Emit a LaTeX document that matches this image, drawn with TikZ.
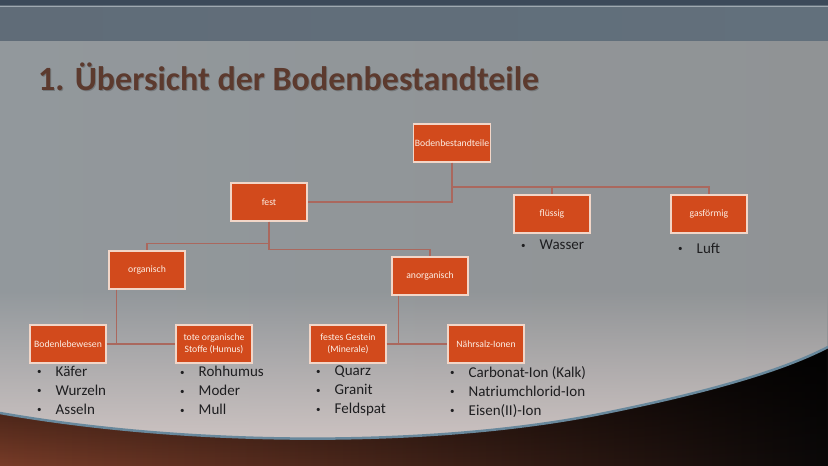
\documentclass[tikz,border=0pt]{standalone}
\usepackage{fontspec}
\setmainfont{Carlito}
\usetikzlibrary{fadings}

\definecolor{boxfill}{RGB}{210,74,28}
\definecolor{boxline}{RGB}{242,214,200}
\definecolor{boxtext}{RGB}{252,238,228}
\definecolor{linecol}{RGB}{170,104,94}
\definecolor{listtext}{RGB}{30,30,32}
\definecolor{titlecol}{RGB}{92,58,46}
\definecolor{topdark}{RGB}{60,74,90}
\definecolor{bandleft}{RGB}{96,108,120}
\definecolor{bandmid}{RGB}{118,132,144}
\definecolor{bandright}{RGB}{98,112,124}
\definecolor{bodyleft}{RGB}{146,152,156}
\definecolor{bodymid}{RGB}{172,196,208}
\definecolor{bodyright}{RGB}{144,147,149}
\definecolor{glow}{RGB}{214,202,200}
\definecolor{soilleft}{RGB}{120,60,40}
\definecolor{soilright}{RGB}{10,8,8}
\definecolor{rim}{RGB}{104,136,156}

\newcommand{\bul}[1]{\makebox[18.5pt][l]{\raisebox{1.5pt}{\fontsize{9}{9}\selectfont\textbullet}}#1}

\begin{document}
\begin{tikzpicture}[x=1pt,y=-1pt,
	box/.style={draw=boxline,fill=boxfill,text=boxtext,line width=1.2pt,minimum width=76pt,minimum height=38pt,inner sep=1pt,align=center,font=\fontsize{9.7}{11.5}\selectfont},
	liste/.style={anchor=north west,inner sep=0pt,align=left,text=listtext,font=\fontsize{15}{19}\selectfont},
	titel/.style={anchor=base west,inner sep=0pt,font=\fontsize{34}{40}\selectfont\bfseries},
	conn/.style={draw=linecol,line width=1.3pt}]
	\useasboundingbox (0,0) rectangle (828,466);

	% Hintergrund
	\shade[left color=bodyleft,middle color=bodymid,right color=bodyright] (0,40) rectangle (828,466);
	\fill[glow,path fading=north] (0,290) rectangle (828,466);
	\fill[topdark] (0,0) rectangle (828,5);
	\shade[left color=bandleft,middle color=bandmid,right color=bandright] (0,5) rectangle (828,40);
	\draw[bandmid!70!white,line width=.8pt] (0,6) -- (828,6);
	\shade[left color=soilleft,right color=soilright] (0,413) .. controls (200,448) and (440,446) .. (600,414) .. controls (700,394) and (780,372) .. (828,347) -- (828,466) -- (0,466) -- cycle;
	\fill[black,path fading=south,opacity=.8] (0,413) .. controls (200,448) and (440,446) .. (600,414) .. controls (700,394) and (780,372) .. (828,347) -- (828,466) -- (0,466) -- cycle;
	\draw[rim,line width=2.5pt] (0,413) .. controls (200,448) and (440,446) .. (600,414) .. controls (700,394) and (780,372) .. (828,347);

	\node[titel,text=black,opacity=.2] at (39,91) {1. Übersicht der Bodenbestandteile};
	\node[titel,text=titlecol] (titel) at (38,90) {1. Übersicht der Bodenbestandteile};

	\node[box] (boden) at (452,143) {Bodenbestandteile};
	\node[box] (fest) at (269,202) {fest};
	\node[box] (fluessig) at (552,214) {flüssig};
	\node[box] (gas) at (709,214) {gasförmig};
	\node[box] (org) at (147,270) {organisch};
	\node[box] (anorg) at (430,276) {anorganisch};
	\node[box] (leben) at (68,344) {Bodenlebewesen};
	\node[box] (humus) at (214,344) {tote organische\\Stoffe (Humus)};
	\node[box] (gestein) at (348,344) {festes Gestein\\(Minerale)};
	\node[box] (salz) at (486,344) {Nährsalz-Ionen};

	\coordinate (gabel) at (452,187);
	\draw[conn] (boden.south) |- (fest.east);
	\draw[conn] (gabel) -| (fluessig.north);
	\draw[conn] (gabel) -| (gas.north);
	\draw[conn] (fest.south) -- ++(0,22) -| (org.north);
	\draw[conn] (fest.south) -- ++(0,28) -| (anorg.north);
	\draw[conn] ([xshift=8pt]org.south west) |- (leben.east);
	\draw[conn] (leben.east) -- (humus.west);
	\draw[conn] ([xshift=7pt]anorg.south west) |- (gestein.east);
	\draw[conn] (gestein.east) -- (salz.west);

	\node[liste] (l1) at (37,366) {\bul{Käfer}\\\bul{Wurzeln}\\\bul{Asseln}};
	\node[liste] (l2) at (180,366) {\bul{Rohhumus}\\\bul{Moder}\\\bul{Mull}};
	\node[liste] (l3) at (316,366) {\bul{Quarz}\\\bul{Granit}\\\bul{Feldspat}};
	\node[liste] (l4) at (450,366) {\bul{Carbonat-Ion (Kalk)}\\\bul{Natriumchlorid-Ion}\\\bul{Eisen(II)-Ion}};
	\node[liste] (l5) at (521,240) {\bul{Wasser}};
	\node[liste] (l6) at (678,243) {\bul{Luft}};
\end{tikzpicture}
\end{document}
